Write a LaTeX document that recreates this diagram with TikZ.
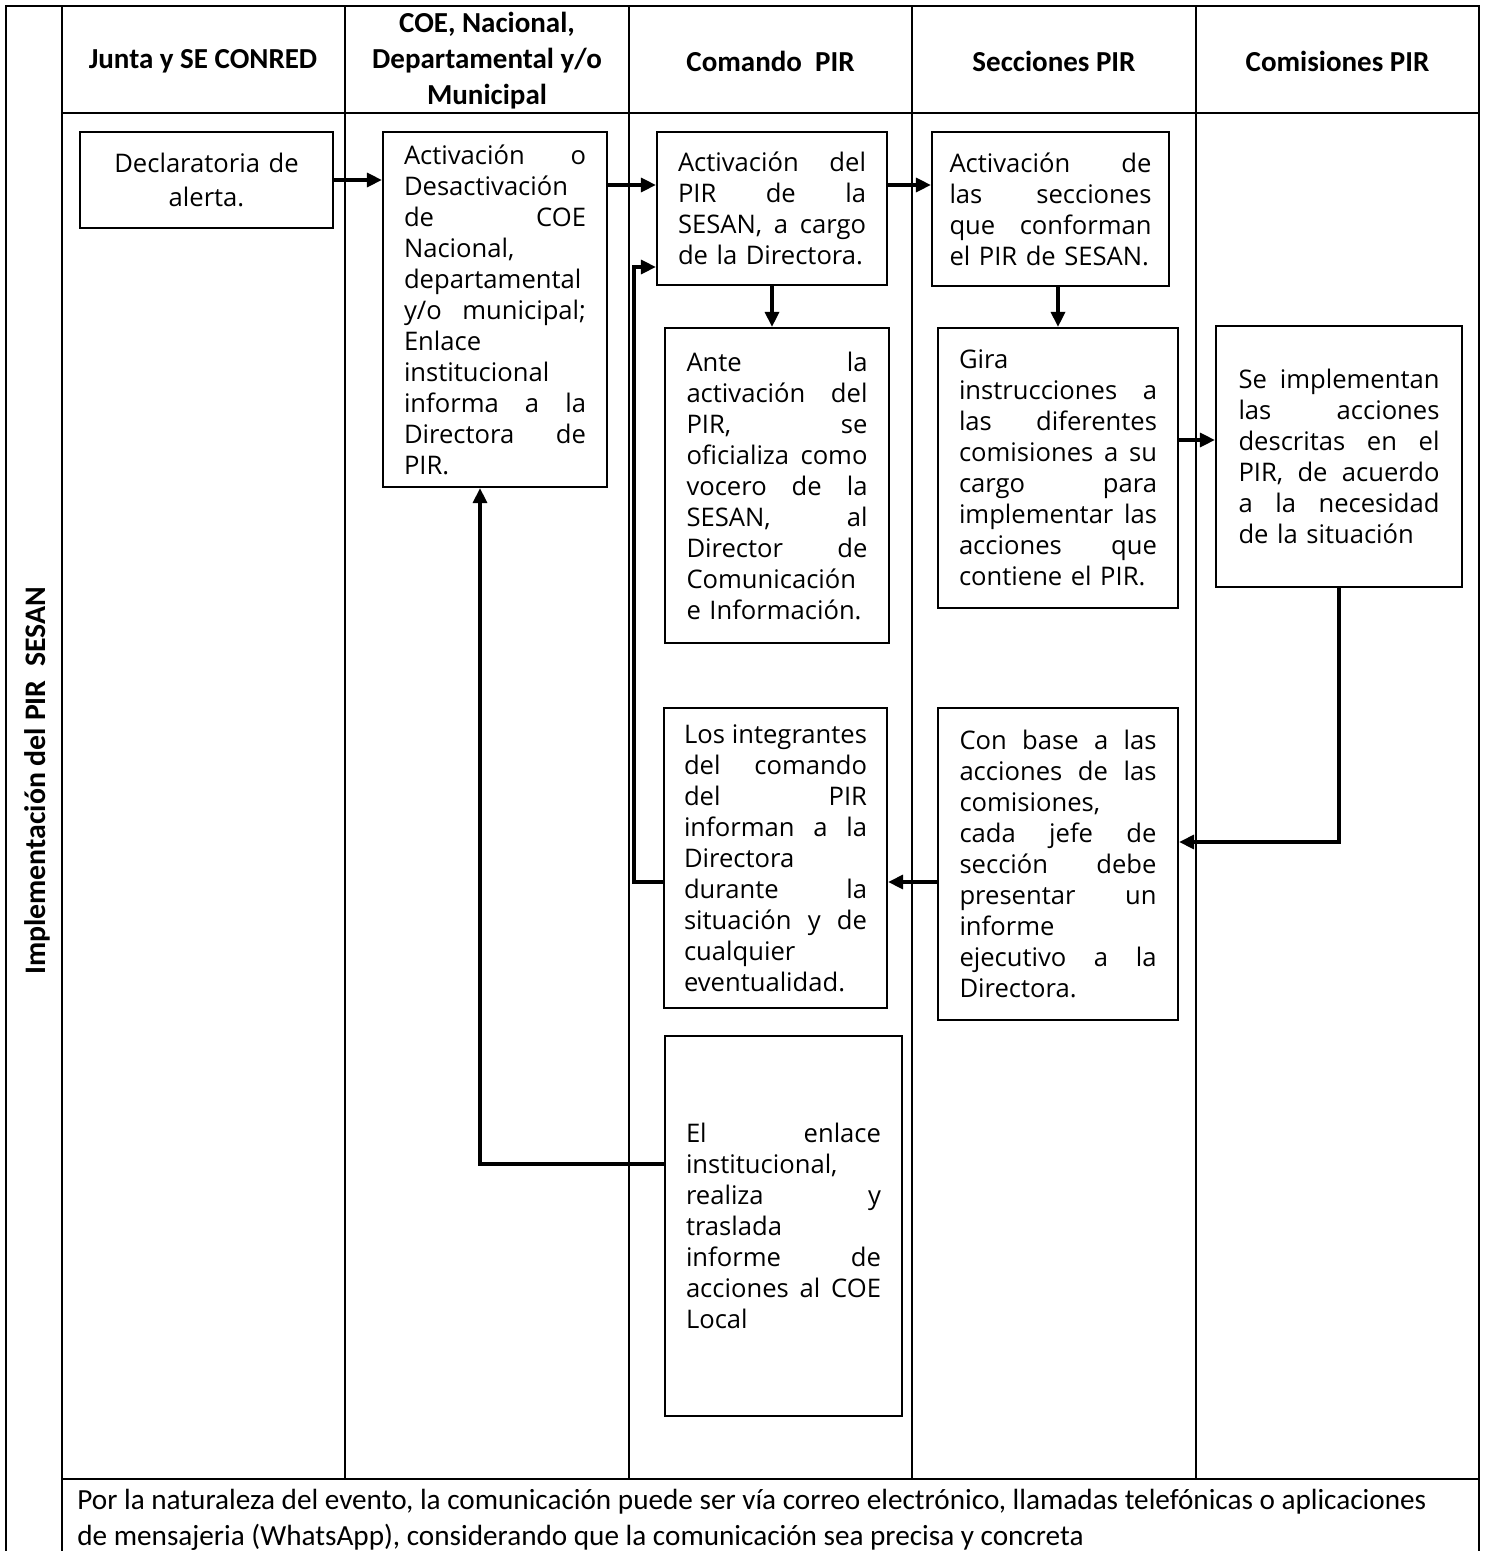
\documentclass[tikz,border=0pt]{standalone}
\usepackage{fontspec}
\setmainfont{Carlito}
\newfontfamily\cajafont{Open Sans}
\usetikzlibrary{arrows.meta}
% one justified line inside a box (\ancho is set by the box style)
\newcommand{\ancho}{0pt}
\newcommand{\jl}[1]{\leavevmode\hbox to\ancho{\spaceskip=0.26em plus 1fil\relax #1}}

\begin{document}
\begin{tikzpicture}[x=0.5pt, y=-0.5pt,
    tabla/.style={line width=1pt},
    caja/.style={draw, line width=1.1pt, inner sep=0pt, align=left, text width=#1,
      execute at begin node={\def\ancho{#1}},
      font=\cajafont\fontsize{12.8}{15.5}\selectfont},
    flecha/.style={line width=1.6pt, -{Triangle[length=7.5pt,width=7pt]}},
    titulo/.style={font=\bfseries\fontsize{14.5}{18}\selectfont, align=center}]
  \useasboundingbox (0,0) rectangle (1485,1551);

  % table frame
  \draw[tabla] (6,1551) -- (6,6) -- (1479,6) -- (1479,1551);
  \draw[tabla] (62,6) -- (62,1551);
  \draw[tabla] (62,113) -- (1479,113);
  \draw[tabla] (62,1479) -- (1479,1479);
  \foreach \x in {344.5,629,912,1196}
    \draw[tabla] (\x,6) -- (\x,1479);

  % column heads
  \node[titulo] (junta) at (203,61) {Junta y SE CONRED};
  \node[titulo] (coeh) at (487,61) {COE, Nacional,\\ Departamental y/o\\ Municipal};
  \node[titulo] (comando) at (770.5,61) {Comando~~PIR};
  \node[titulo] (secciones) at (1054,61) {Secciones PIR};
  \node[titulo] (comisiones) at (1337.5,61) {Comisiones PIR};
  \node[titulo, rotate=90, font=\bfseries\fontsize{14.9}{18}\selectfont] (lado) at (37,781)
    {Implementación del PIR~~SESAN};

  % boxes
  \node[caja=110pt, align=center, minimum width=126.5pt, minimum height=48pt,
    font=\cajafont\fontsize{12.8}{17}\selectfont] (decl) at (206.5,180)
    {Declaratoria de\\ alerta.};
  \node[caja=91pt, minimum width=112pt, minimum height=177.5pt] (coe) at (495,309.5)
    {\jl{Activación o}\\ Desactivación\\ \jl{de COE}\\ Nacional,\\ departamental\\
     \jl{y/o municipal;}\\ Enlace\\ institucional\\ \jl{informa a la}\\ \jl{Directora de}\\ PIR.};
  \node[caja=94pt, minimum width=115pt, minimum height=76.5pt] (activ) at (772,208.5)
    {\jl{Activación del}\\ \jl{PIR de la}\\ \jl{SESAN, a cargo}\\ de la Directora.};
  \node[caja=101pt, minimum width=118.5pt, minimum height=77pt] (secc) at (1050.5,209)
    {\jl{Activación de}\\ \jl{las secciones}\\ \jl{que conforman}\\ el PIR de SESAN.};
  \node[caja=90.5pt, minimum width=112pt, minimum height=157.5pt] (ante) at (777,485.5)
    {\jl{Ante la}\\ \jl{activación del}\\ \jl{PIR, se}\\ \jl{oficializa como}\\ \jl{vocero de la}\\
     \jl{SESAN, al}\\ \jl{Director de}\\ Comunicación\\ e Información.};
  \node[caja=99pt, minimum width=120pt, minimum height=140pt] (gira) at (1058,468)
    {Gira\\ \jl{instrucciones a}\\ \jl{las diferentes}\\ \jl{comisiones a su}\\ \jl{cargo para}\\
     \jl{implementar las}\\ \jl{acciones que}\\ contiene el PIR.};
  \node[caja=100.5pt, minimum width=123pt, minimum height=130.5pt] (impl) at (1339,456.5)
    {\jl{Se implementan}\\ \jl{las acciones}\\ \jl{descritas en el}\\ \jl{PIR, de acuerdo}\\
     \jl{a la necesidad}\\ de la situación};
  \node[caja=91.5pt, minimum width=111.5pt, minimum height=150pt] (integ) at (775.5,858)
    {\jl{Los integrantes}\\ \jl{del comando}\\ \jl{del PIR}\\ \jl{informan a la}\\ Directora\\
     \jl{durante la}\\ \jl{situación y de}\\ cualquier\\ eventualidad.};
  \node[caja=98.5pt, minimum width=120pt, minimum height=156pt] (base) at (1058,864)
    {\jl{Con base a las}\\ \jl{acciones de las}\\ comisiones,\\ \jl{cada jefe de}\\ \jl{sección debe}\\
     \jl{presentar un}\\ informe\\ \jl{ejecutivo a la}\\ Directora.};
  \node[caja=97.5pt, minimum width=118.5pt, minimum height=190pt] (enlace) at (783.5,1226)
    {\jl{El enlace}\\ institucional,\\ \jl{realiza y}\\ traslada\\ \jl{informe de}\\
     \jl{acciones al COE}\\ Local};

  % footer note
  \node[font=\fontsize{14.6}{18}\selectfont, align=left, anchor=north west, inner sep=0pt] (nota) at (77,1489)
    {Por la naturaleza del evento, la comunicación puede ser vía correo electrónico, llamadas telefónicas o aplicaciones\\
     de mensajeria (WhatsApp), considerando que la comunicación sea precisa y concreta};

  % arrow rows and bends
  \coordinate (f2) at (0,185);
  \coordinate (f6) at (0,440);
  \coordinate (f7) at (0,842);
  \coordinate (f8) at (0,882);
  \coordinate (v9) at (634,267);
  \coordinate (v10) at (480,1164);

  \draw[flecha] (decl.east) -- (decl.east -| coe.west);
  \draw[flecha] (coe.east |- f2) -- (activ.west |- f2);
  \draw[flecha] (activ.east |- f2) -- (secc.west |- f2);
  \draw[flecha] (activ.south) -- (activ.south |- ante.north);
  \draw[flecha] (secc.south -| gira.north) -- (gira.north);
  \draw[flecha] (gira.east |- f6) -- (impl.west |- f6);
  \draw[flecha] (impl.south) -- (impl.south |- f7) -- (base.east |- f7);
  \draw[flecha] (base.west |- f8) -- (integ.east |- f8);
  \draw[flecha] (integ.west |- f8) -| (v9) -- (activ.west |- v9);
  \draw[flecha] (enlace.west |- v10) -- (v10) -- (v10 |- coe.south);
\end{tikzpicture}
\end{document}
